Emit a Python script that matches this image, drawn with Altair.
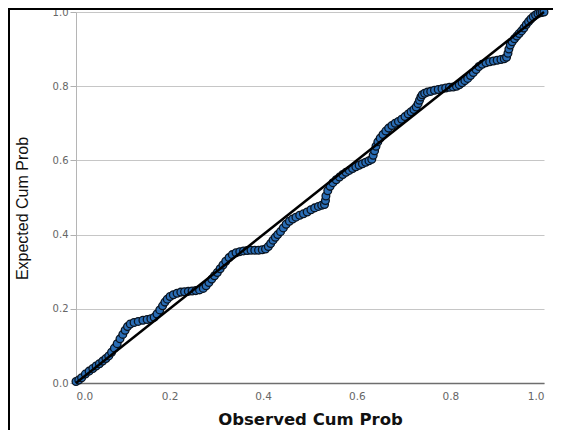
import altair as alt
import pandas as pd

# Observed / expected cumulative probabilities
obs = [
    0.000, 0.006, 0.012, 0.020, 0.028, 0.036, 0.043, 0.050, 0.057, 0.064,
    0.070, 0.076, 0.082, 0.088, 0.094, 0.100, 0.105, 0.110, 0.116, 0.124,
    0.133, 0.143, 0.152, 0.160, 0.167, 0.173, 0.179, 0.185, 0.190, 0.195,
    0.201, 0.208, 0.216, 0.224, 0.232, 0.240, 0.248, 0.256, 0.264, 0.272,
    0.278, 0.284, 0.290, 0.296, 0.302, 0.308, 0.314, 0.320, 0.327, 0.334,
    0.342, 0.350, 0.358, 0.366, 0.374, 0.382, 0.390, 0.398, 0.405, 0.411,
    0.416, 0.421, 0.426, 0.431, 0.437, 0.443, 0.449, 0.456, 0.463, 0.470,
    0.478, 0.486, 0.494, 0.502, 0.510, 0.518, 0.525, 0.531, 0.533, 0.534,
    0.538, 0.543, 0.549, 0.556, 0.563, 0.570, 0.577, 0.584, 0.591, 0.598,
    0.605, 0.612, 0.619, 0.626, 0.632, 0.635, 0.638, 0.641, 0.645, 0.650,
    0.656, 0.662, 0.668, 0.675, 0.682, 0.689, 0.696, 0.703, 0.710, 0.716,
    0.722, 0.727, 0.731, 0.734, 0.737, 0.740, 0.745, 0.751, 0.758, 0.766,
    0.774, 0.782, 0.790, 0.798, 0.806, 0.813, 0.819, 0.825, 0.831, 0.837,
    0.843, 0.849, 0.855, 0.861, 0.868, 0.876, 0.884, 0.892, 0.900, 0.908,
    0.915, 0.920, 0.923, 0.925, 0.928, 0.932, 0.937, 0.942, 0.947, 0.952,
    0.957, 0.962, 0.967, 0.972, 0.977, 0.982, 0.987, 0.992, 0.996, 1.000,
]
exp = [
    0.004, 0.008, 0.014, 0.024, 0.032, 0.039, 0.046, 0.052, 0.059, 0.066,
    0.073, 0.083, 0.094, 0.106, 0.119, 0.131, 0.142, 0.152, 0.159, 0.163,
    0.166, 0.169, 0.171, 0.173, 0.177, 0.186, 0.197, 0.208, 0.218, 0.226,
    0.233, 0.238, 0.242, 0.245, 0.246, 0.247, 0.248, 0.249, 0.251, 0.255,
    0.262, 0.271, 0.280, 0.289, 0.298, 0.308, 0.318, 0.328, 0.338, 0.346,
    0.351, 0.354, 0.356, 0.357, 0.358, 0.358, 0.358, 0.359, 0.361, 0.368,
    0.376, 0.385, 0.393, 0.400, 0.408, 0.418, 0.428, 0.436, 0.442, 0.447,
    0.452, 0.456, 0.461, 0.467, 0.472, 0.476, 0.479, 0.481, 0.492, 0.504,
    0.518, 0.530, 0.540, 0.548, 0.555, 0.562, 0.568, 0.573, 0.578, 0.583,
    0.587, 0.591, 0.595, 0.599, 0.603, 0.614, 0.626, 0.638, 0.650, 0.660,
    0.670, 0.679, 0.687, 0.694, 0.700, 0.705, 0.711, 0.718, 0.725, 0.731,
    0.737, 0.744, 0.753, 0.762, 0.771, 0.777, 0.781, 0.784, 0.786, 0.789,
    0.791, 0.793, 0.795, 0.797, 0.798, 0.800, 0.804, 0.809, 0.815, 0.821,
    0.829, 0.837, 0.845, 0.853, 0.859, 0.863, 0.866, 0.868, 0.870, 0.872,
    0.874, 0.878, 0.889, 0.900, 0.911, 0.920, 0.928, 0.935, 0.942, 0.949,
    0.957, 0.966, 0.974, 0.981, 0.987, 0.992, 0.996, 0.998, 0.999, 1.000,
]

# Reference diagonal
line_x = [0.0, 1.0]
line_y = [0.0, 1.0]

tick_vals = [0.0, 0.2, 0.4, 0.6, 0.8, 1.0]

pts = pd.DataFrame({"obs": obs, "exp": exp})
ref = pd.DataFrame({"obs": line_x, "exp": line_y})

xs = alt.Scale(domain=[0, 1], nice=False, zero=False)
ys = alt.Scale(domain=[0, 1], nice=False, zero=False)

x_axis = alt.Axis(
    title="Observed Cum Prob",
    values=tick_vals,
    format=".1f",
    grid=False,
    ticks=False,
    domainColor="#6e6e6e",
    domainWidth=1.5,
    labelColor="#666666",
    labelFont="DejaVu Sans",
    labelFontSize=10.5,
    labelPadding=8,
    titleFont="DejaVu Sans",
    titleFontWeight="bold",
    titleFontSize=16.5,
    titleColor="#111111",
    titleX=234,
    titleY=41,
    titleAlign="center",
    titleBaseline="alphabetic",
)

y_axis = alt.Axis(
    title="Expected Cum Prob",
    values=tick_vals,
    format=".1f",
    grid=True,
    gridColor="#c6c6c6",
    gridWidth=1,
    ticks=True,
    tickSize=6,
    tickColor="#b0b0b0",
    domainColor="#b5b5b5",
    labelColor="#666666",
    labelFont="DejaVu Sans",
    labelFontSize=10,
    labelPadding=2,
    titleFont="Liberation Sans Narrow, Arial Narrow, Liberation Sans",
    titleFontWeight="normal",
    titleFontSize=16,
    titleColor="#111111",
    titleX=-54,
    titleY=196,
    titleAngle=-90,
    titleAlign="center",
    titleBaseline="middle",
)

points = alt.Chart(pts).mark_circle(
    size=60, color="#2a6db5", stroke="#0a1420", strokeWidth=1.3, opacity=1
).encode(
    x=alt.X("obs:Q", scale=xs, axis=x_axis),
    y=alt.Y("exp:Q", scale=ys, axis=y_axis),
)

diag = alt.Chart(ref).mark_line(color="#000000", strokeWidth=2.5).encode(
    x=alt.X("obs:Q", scale=xs),
    y=alt.Y("exp:Q", scale=ys),
)

# Decorative outer frame (top and left edges)
frame_top = alt.Chart(pts).mark_rule(color="#000000", strokeWidth=2).encode(
    x=alt.value(-68), x2=alt.value(477), y=alt.value(-3)
)
frame_left = alt.Chart(pts).mark_rule(color="#000000", strokeWidth=2).encode(
    x=alt.value(-67), y=alt.value(-4), y2=alt.value(419)
)

chart = alt.layer(points, diag, frame_top, frame_left).properties(
    width=468,
    height=371,
    autosize=alt.AutoSizeParams(type="none"),
    padding={"left": 68, "top": 4, "right": 9, "bottom": 47},
    background="white",
).configure_view(strokeWidth=0)

chart.save("out.html", embed_options={"renderer": "svg", "actions": False})
